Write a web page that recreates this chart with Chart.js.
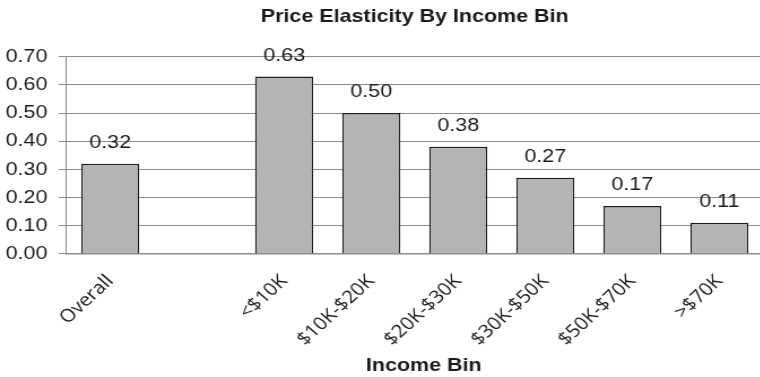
<!DOCTYPE html>
<html>
<head>
<meta charset="utf-8">
<title>Price Elasticity By Income Bin</title>
<script src="https://cdn.jsdelivr.net/npm/chart.js@4"></script>
<style>
  html, body { margin: 0; padding: 0; background: #ffffff; overflow: hidden; }
  #wrap { width: 760px; height: 377px; overflow: hidden; }
  #chart { display: block; }
</style>
</head>
<body>
<div id="wrap">
  <!-- drawn at 676 px and shown at 764 px wide: the figure's lettering is set slightly wide -->
  <canvas id="chart" width="676" height="377" style="width:764px;height:377px"></canvas>
</div>
<script>
// Income bins (the empty slot separates the overall figure from the bins)
const categories = ['Overall', '', '<$10K', '$10K-$20K', '$20K-$30K', '$30K-$50K', '$50K-$70K', '>$70K'];
// Price elasticity per bin
const elasticity = [0.32, null, 0.63, 0.50, 0.38, 0.27, 0.17, 0.11];
// Value axis tick labels
const yTickLabels = ['0.00', '0.10', '0.20', '0.30', '0.40', '0.50', '0.60', '0.70'];

const SANS = '"Liberation Sans", Arial, Helvetica, sans-serif';
const TEXT = '#1a1a1a';
const GRID = '#8c8c8c';
const Y_TICK_PAD = 10;
const X_TICK_PAD = 17;
const X_TITLE_SHIFT = 8;

// Writes each bar's value above it
const valueLabels = {
  id: 'valueLabels',
  afterDatasetsDraw(chart) {
    const ctx = chart.ctx;
    const meta = chart.getDatasetMeta(0);
    ctx.save();
    ctx.font = '19px ' + SANS;
    ctx.fillStyle = TEXT;
    ctx.textAlign = 'center';
    ctx.textBaseline = 'middle';
    meta.data.forEach((bar, i) => {
      const v = elasticity[i];
      if (v === null || v === undefined) return;
      ctx.fillText(v.toFixed(2), bar.x, bar.y - 21);
    });
    ctx.restore();
  }
};

new Chart(document.getElementById('chart'), {
  type: 'bar',
  data: {
    labels: categories,
    datasets: [{
      data: elasticity,
      backgroundColor: '#b3b4b3',
      borderColor: '#1e1e1e',
      borderWidth: 1.5,
      categoryPercentage: 1,
      barPercentage: 0.667
    }]
  },
  options: {
    responsive: false,
    animation: false,
    devicePixelRatio: 1,
    layout: { padding: { left: 5, right: 1, top: 0, bottom: 0 } },
    plugins: {
      legend: { display: false },
      tooltip: { enabled: false },
      title: {
        display: true,
        text: 'Price Elasticity By Income Bin',
        color: TEXT,
        fullSize: false,
        font: { family: SANS, size: 19, weight: 'bold', lineHeight: 1.2 },
        padding: { top: 5, bottom: 29 }
      }
    },
    scales: {
      x: {
        grid: { display: false, drawTicks: false },
        border: { display: true, color: GRID, width: 1.5 },
        ticks: {
          color: TEXT,
          font: { family: '"Open Sans", "Noto Sans", sans-serif', size: 18 },
          minRotation: 46,
          maxRotation: 46,
          autoSkip: false,
          padding: X_TICK_PAD
        },
        title: {
          display: true,
          text: 'Income Bin',
          color: TEXT,
          font: { family: SANS, size: 19, weight: 'bold', lineHeight: 1.2 },
          padding: { top: 0, bottom: 0 }
        },
        // the slanted labels fit under the plot, so no side room is reserved for them;
        // the gap below the labels is kept tight to the axis title
        afterFit(scale) {
          scale.paddingLeft = 0;
          scale.paddingRight = 0;
          scale.height -= 13;
          if (!scale._titleShifted) {
            const baseDrawTitle = scale.drawTitle;
            // the axis title sits a little right of the plot's centre
            scale.drawTitle = function () {
              this.ctx.save();
              this.ctx.translate(X_TITLE_SHIFT, 0);
              baseDrawTitle.call(this);
              this.ctx.restore();
            };
            scale._titleShifted = true;
          }
        }
      },
      y: {
        min: 0,
        max: 0.7,
        grid: { color: GRID, lineWidth: 1, tickLength: 7, tickColor: GRID },
        border: { display: true, color: GRID, width: 1 },
        ticks: {
          stepSize: 0.1,
          color: TEXT,
          padding: Y_TICK_PAD,
          font: { family: SANS, size: 19 },
          callback: (v, i) => yTickLabels[i]
        },
        // the axis reserves the tick padding twice; keep it only between label and tick
        afterFit(scale) {
          scale.width -= Y_TICK_PAD;
        }
      }
    }
  },
  plugins: [valueLabels]
});
</script>
</body>
</html>
